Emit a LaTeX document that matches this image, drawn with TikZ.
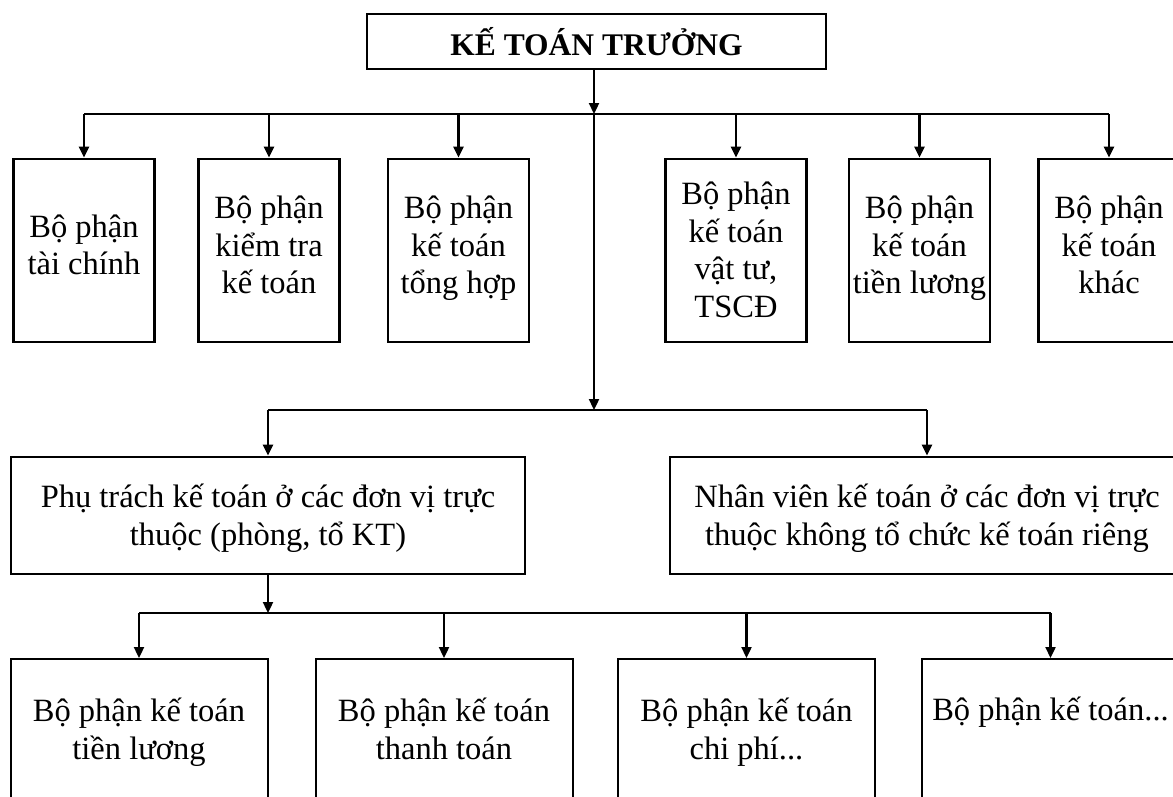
\documentclass[tikz,border=0pt]{standalone}
\usepackage{fontspec}
\setmainfont{Liberation Serif}
\usetikzlibrary{arrows.meta}
\begin{document}
\begin{tikzpicture}[x=1pt,y=-1pt,
  frame/.style={draw,line width=2.7pt,inner sep=0pt},
  unit/.style={frame,minimum width=141pt,minimum height=183pt},
  branch/.style={frame,minimum width=514pt,minimum height=117pt},
  leaf/.style={frame,line width=2pt,minimum width=257pt,minimum height=140pt},
  % box captions: fixed top and bottom so every line sits at the same height
  lbl/.style={inner sep=0pt,align=center,font=\fontsize{32.5}{37.5}\selectfont,
              execute at begin node={\rule{0pt}{33pt}},
              execute at end node={\rule[-9pt]{0pt}{9pt}}},
  link/.style={line width=2.3pt},
  arr/.style={link,-{Triangle[width=10pt,length=11pt]}}]
\useasboundingbox (0,0) rectangle (1173,796);
\clip (0,0) rectangle (1173,796);

% chief accountant
\node[frame,font=\bfseries\fontsize{31.5}{37.5}\selectfont,
      minimum width=459pt,minimum height=55pt] (head) at (596.5,41.5) {KẾ TOÁN TRƯỞNG};

% first row of departments
\node[unit] (b1) at (84,250.5)    {};
\node[unit] (b2) at (269,250.5)   {};
\node[unit] (b3) at (458.5,250.5) {};
\node[unit] (b4) at (736,250.5)   {};
\node[unit] (b5) at (919.5,250.5) {};
\node[unit] (b6) at (1109,250.5)  {};
\node[lbl] (b1t) at (84,249.3)    {Bộ phận\\tài chính};
\node[lbl] (b2t) at (269,249.3)   {Bộ phận\\kiểm tra\\kế toán};
\node[lbl] (b3t) at (458.5,249.3) {Bộ phận\\kế toán\\tổng hợp};
\node[lbl] (b4t) at (736,254.3)   {Bộ phận\\kế toán\\vật tư,\\TSCĐ};
\node[lbl] (b5t) at (919.5,249.3) {Bộ phận\\kế toán\\tiền lương};
\node[lbl] (b6t) at (1109,249.3)  {Bộ phận\\kế toán\\khác};

% subordinate units
\node[branch] (pt) at (268,515.5) {};
\node[branch] (nv) at (927,515.5) {};
\node[lbl] (ptt) at (268,519.3) {Phụ trách kế toán ở các đơn vị trực\\thuộc (phòng, tổ KT)};
\node[lbl] (nvt) at (927,519.3) {Nhân viên kế toán ở các đơn vị trực\\thuộc không tổ chức kế toán riêng};

% sections under the unit head
\node[leaf] (c1) at (139,729)    {};
\node[leaf] (c2) at (444,729)    {};
\node[leaf] (c3) at (746.5,729)  {};
\node[leaf] (c4) at (1050.5,729) {};
\node[lbl] (c1t) at (139,733)      {Bộ phận kế toán\\tiền lương};
\node[lbl] (c2t) at (444,733)      {Bộ phận kế toán\\thanh toán};
\node[lbl] (c3t) at (746.5,733)    {Bộ phận kế toán\\chi phí...};
\node[lbl] (c4t) at (1050.5,708.3) {Bộ phận kế toán...};

% connectors
\coordinate (hub)  at (594,114);
\coordinate (hub2) at (594,410);
\coordinate (hub3) at (268,613);

\draw[arr] (head.south -| hub) -- (hub);
\draw[link] (b1.north |- hub) -- (b6.north |- hub);
\foreach \n in {b1,b2,b3,b4,b5,b6}
  \draw[arr] (\n.north |- hub) -- (\n.north);

\draw[arr] (hub) -- (hub2);
\draw[link] (pt.north |- hub2) -- (nv.north |- hub2);
\draw[arr] (pt.north |- hub2) -- (pt.north);
\draw[arr] (nv.north |- hub2) -- (nv.north);

\draw[arr] (pt.south) -- (hub3);
\draw[link] (c1.north |- hub3) -- (c4.north |- hub3);
\foreach \n in {c1,c2,c3,c4}
  \draw[arr] (\n.north |- hub3) -- (\n.north);
\end{tikzpicture}
\end{document}
